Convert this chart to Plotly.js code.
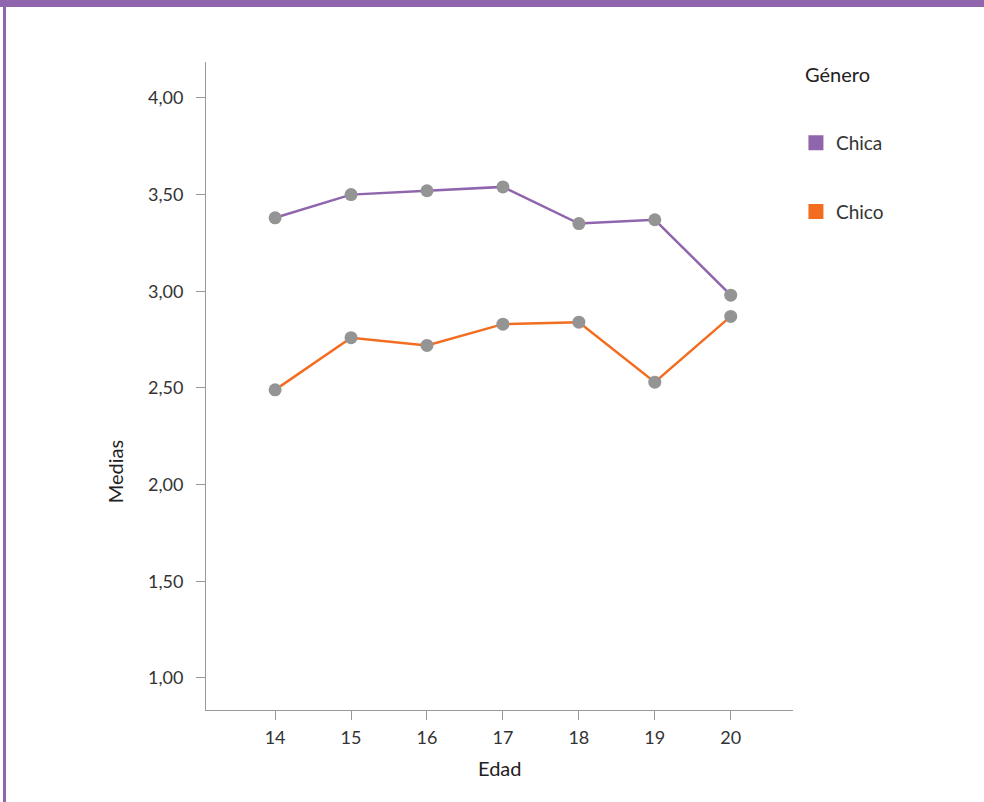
<!DOCTYPE html>
<html>
<head>
<meta charset="utf-8">
<script src="https://cdn.plot.ly/plotly-3.0.1.min.js"></script>
<style>
  html, body { margin: 0; padding: 0; background: #fff; }
  #wrap { position: relative; width: 984px; height: 802px; overflow: hidden; }
  #chart { position: absolute; left: 0; top: 0; width: 984px; height: 802px; }
  #topband { position: absolute; left: 0; top: 0; width: 984px; height: 7px; background: #8f66ad; z-index: 5; }
  #leftband { position: absolute; left: 3px; top: 0; width: 3px; height: 802px; background: #8f66ad; z-index: 5; }
</style>
</head>
<body>
<div id="wrap">
  <div id="chart"></div>
  <div id="topband"></div>
  <div id="leftband"></div>
</div>
<script>
const edad = [14, 15, 16, 17, 18, 19, 20];
const chica = [3.38, 3.50, 3.52, 3.54, 3.35, 3.37, 2.98];
const chico = [2.49, 2.76, 2.72, 2.83, 2.84, 2.53, 2.87];
const seriesNames = ['Chica', 'Chico'];
const seriesColors = ['#8f66ad', '#f36d21'];
const yTicks = [1, 1.5, 2, 2.5, 3, 3.5, 4];

const font = 'Lato, "Open Sans", sans-serif';
const markerGray = '#949494';

const traces = [
  {x: edad, y: chica, mode: 'lines+markers', name: seriesNames[0], showlegend: false,
   line: {color: seriesColors[0], width: 2.5}, marker: {color: markerGray, size: 13}},
  {x: edad, y: chico, mode: 'lines+markers', name: seriesNames[1], showlegend: false,
   line: {color: seriesColors[1], width: 2.5}, marker: {color: markerGray, size: 13}},
  {x: [null], y: [null], mode: 'markers', name: seriesNames[0], legendgroup: 'a',
   marker: {color: seriesColors[0], symbol: 'square', size: 15}},
  {x: [null], y: [null], mode: 'markers', name: seriesNames[1], legendgroup: 'b',
   marker: {color: seriesColors[1], symbol: 'square', size: 15}}
];

const layout = {
  width: 984, height: 802,
  margin: {l: 206, r: 191, t: 62, b: 92},
  paper_bgcolor: '#fff', plot_bgcolor: '#fff',
  font: {family: font, size: 18, color: '#333'},
  separators: ',.',
  showlegend: true,
  legend: {x: 1.005, xanchor: 'left', y: 0.822, yanchor: 'middle',
           tracegroupgap: 41, font: {family: font, size: 19, color: '#333'},
           itemsizing: 'trace'},
  annotations: [
    {text: 'Género', xref: 'paper', yref: 'paper', x: 1.017, y: 0.981,
     xanchor: 'left', yanchor: 'middle', showarrow: false,
     font: {family: font, size: 20, color: '#222'}},
    {text: 'Medias', xref: 'paper', yref: 'paper', x: -0.155, y: 0.367,
     xanchor: 'center', yanchor: 'middle', textangle: -90, showarrow: false,
     font: {family: font, size: 20, color: '#222'}},
    {text: 'Edad', xref: 'paper', yref: 'paper', x: 0.5, y: -0.089,
     xanchor: 'center', yanchor: 'middle', showarrow: false,
     font: {family: font, size: 20, color: '#222'}}
  ],
  xaxis: {range: [13.09, 20.82], tickvals: edad, ticktext: edad.map(String),
          showgrid: false, zeroline: false, showline: true, linecolor: '#999', linewidth: 1,
          ticks: 'outside', ticklen: 9, tickcolor: '#999', ticklabelstandoff: 2,
          tickfont: {family: font, size: 18, color: '#333'}},
  yaxis: {range: [0.834, 4.186], tickvals: yTicks, tickformat: '.2f',
          showgrid: false, zeroline: false, showline: true, linecolor: '#999', linewidth: 1,
          ticks: 'outside', ticklen: 9, tickcolor: '#999', ticklabelstandoff: 9,
          tickfont: {family: font, size: 18, color: '#333'}}
};

Plotly.newPlot('chart', traces, layout, {displayModeBar: false, staticPlot: true});
</script>
</body>
</html>
